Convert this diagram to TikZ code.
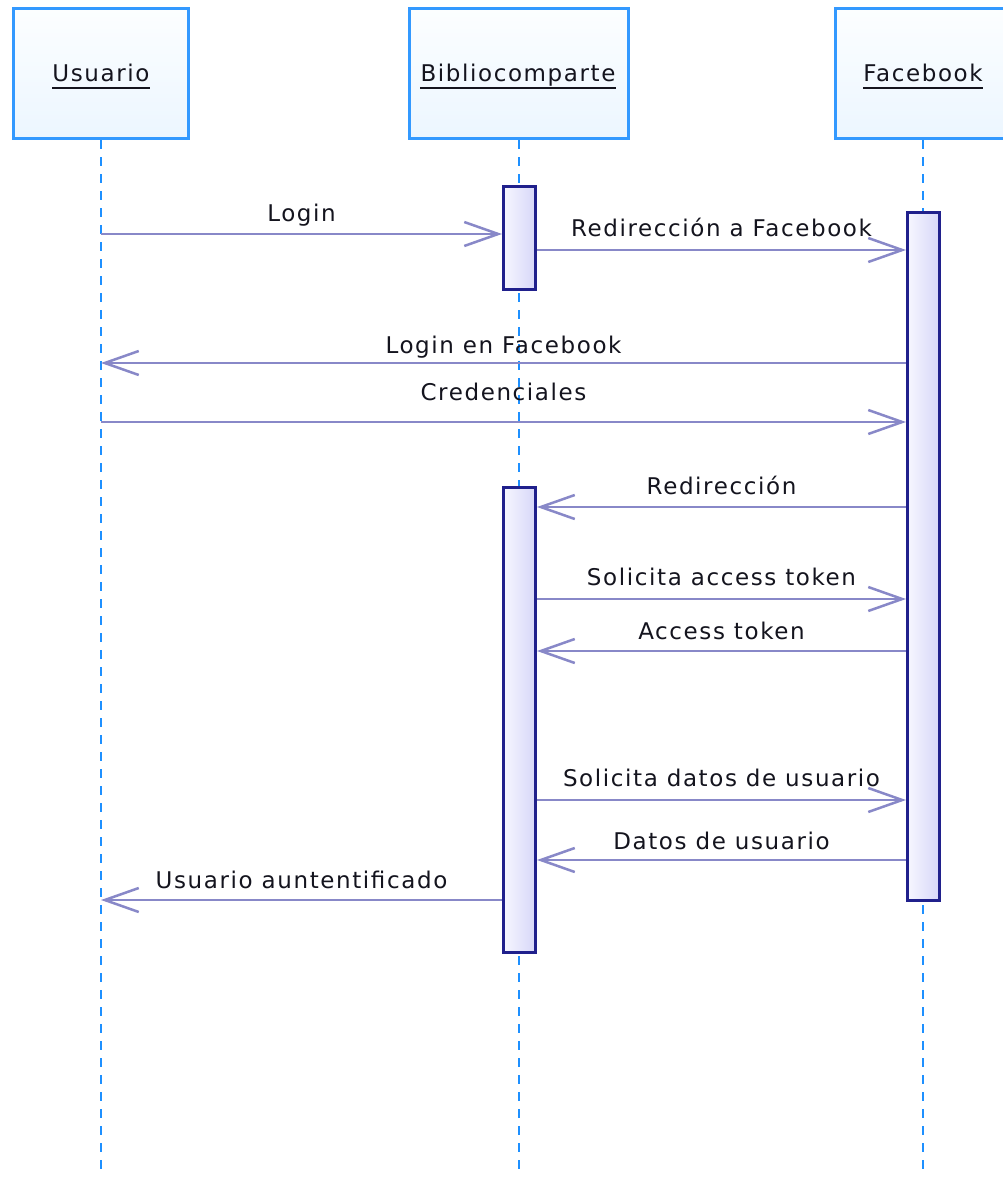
\documentclass[tikz,border=0pt]{standalone}
\usepackage{fontspec}
\setmainfont{DejaVu Sans}[LetterSpace=7]
\usetikzlibrary{arrows.meta}
\definecolor{hdrborder}{RGB}{51,153,255}
\definecolor{hdrfillA}{RGB}{252,254,255}
\definecolor{hdrfillB}{RGB}{236,246,255}
\definecolor{lifecol}{RGB}{30,144,255}
\definecolor{actborder}{RGB}{32,32,140}
\definecolor{actfillA}{RGB}{246,246,255}
\definecolor{actfillB}{RGB}{214,214,248}
\definecolor{msgcol}{RGB}{136,136,200}
\definecolor{txtcol}{RGB}{20,20,30}
\begin{document}
\begin{tikzpicture}[x=1pt,y=-1pt,
  hdr/.style={draw=hdrborder, line width=3.5pt, top color=hdrfillA, bottom color=hdrfillB, minimum height=130pt, inner sep=0pt},
  hdrtxt/.style={text=txtcol, font=\fontsize{23}{27}\selectfont, inner sep=0pt, anchor=base},
  lifeline/.style={draw=lifecol, line width=2.5pt, dash pattern=on 9pt off 8pt},
  act/.style={draw=actborder, line width=3pt, left color=actfillA, right color=actfillB, minimum width=32pt, inner sep=0pt},
  msg/.style={draw=msgcol, line width=2.5pt, -{Straight Barb[length=34pt,width=24pt,line width=2.5pt]}},
  msglbl/.style={text=txtcol, font=\fontsize{23}{27}\selectfont, inner sep=0pt, anchor=base}
]
\useasboundingbox (0,0) rectangle (1003,1177);
\clip (0,0) rectangle (1003,1177);
\fill[white] (0,0) rectangle (1003,1177);

% headers
\node[hdr, minimum width=175pt] (hU) at (101,73.5) {};
\node[hdr, minimum width=219pt] (hB) at (519,73.5) {};
\node[hdr, minimum width=175pt] (hF) at (923,73.5) {};
\node[hdrtxt] (tU) at (101,82) {Usuario};
\node[hdrtxt] (tB) at (518,82) {Bibliocomparte};
\node[hdrtxt] (tF) at (923,82) {Facebook};
\foreach \t in {tU,tB,tF}{
  \draw[txtcol, line width=2.2pt] ([yshift=-6pt]\t.base west) -- ([yshift=-6pt]\t.base east);
}

% lifelines
\coordinate (eU) at (101,1177);
\coordinate (eB) at (519,1177);
\coordinate (eF) at (923,1177);
\draw[lifeline] (hU.south) -- (eU);
\draw[lifeline] (hB.south) -- (eB);
\draw[lifeline] (hF.south) -- (eF);

% activations
\node[act, minimum height=102pt] (a1) at (519.5,238) {};
\node[act, minimum height=465pt] (a2) at (519.5,719.5) {};
\node[act, minimum height=688pt] (f1) at (923.5,556) {};

% message end points on the Usuario lifeline
\coordinate (u1) at (101,234);
\coordinate (u2) at (101,363);
\coordinate (u3) at (101,422);
\coordinate (u4) at (101,900);

% messages
\draw[msg] (u1) -- (a1.west |- u1) node[msglbl, midway, yshift=12.5pt] {Login};
\draw[msg] (a1.east |- 0,250) coordinate (m2s) -- (f1.west |- m2s) node[msglbl, midway, yshift=14pt] {Redirección a Facebook};
\draw[msg] (f1.west |- u2) -- (u2) node[msglbl, midway, yshift=10pt] {Login en Facebook};
\draw[msg] (u3) -- (f1.west |- u3) node[msglbl, midway, yshift=22pt] {Credenciales};
\draw[msg] (f1.west |- 0,507) coordinate (m5s) -- (a2.east |- m5s) node[msglbl, midway, yshift=13pt] {Redirección};
\draw[msg] (a2.east |- 0,599) coordinate (m6s) -- (f1.west |- m6s) node[msglbl, midway, yshift=14pt] {Solicita access token};
\draw[msg] (f1.west |- 0,651) coordinate (m7s) -- (a2.east |- m7s) node[msglbl, midway, yshift=12pt] {Access token};
\draw[msg] (a2.east |- 0,800) coordinate (m8s) -- (f1.west |- m8s) node[msglbl, midway, yshift=14pt] {Solicita datos de usuario};
\draw[msg] (f1.west |- 0,860) coordinate (m9s) -- (a2.east |- m9s) node[msglbl, midway, yshift=11pt] {Datos de usuario};
\draw[msg] (a2.west |- u4) -- (u4) node[msglbl, midway, yshift=12pt] {Usuario auntentificado};
\end{tikzpicture}
\end{document}
